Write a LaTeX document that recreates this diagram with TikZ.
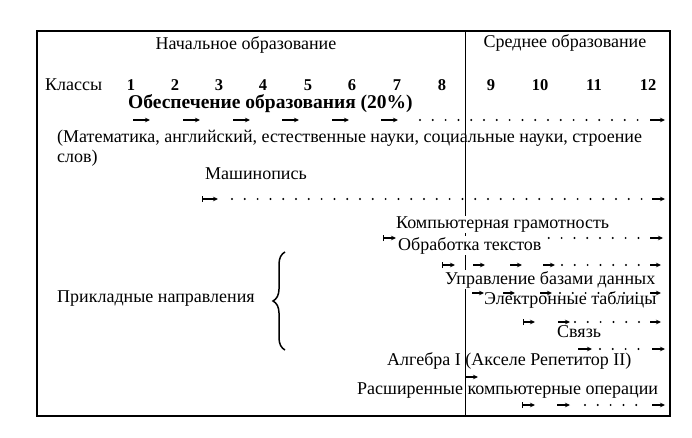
\documentclass[tikz,border=0pt]{standalone}
\usepackage{fontspec}
\setmainfont{Liberation Serif}
\usetikzlibrary{arrows.meta,decorations.pathreplacing}
\begin{document}
\begin{tikzpicture}[x=1pt,y=-1pt,
  lbl/.style={inner sep=0pt, anchor=mid west, font=\fontsize{18}{18}\selectfont},
  ctr/.style={inner sep=0pt, anchor=mid, font=\fontsize{18}{18}\selectfont},
  num/.style={inner sep=0pt, anchor=mid, font=\bfseries\fontsize{16.5}{16.5}\selectfont},
  wh/.style={fill=white, inner xsep=0pt, inner ysep=1pt},
  arr/.style={line width=1.3pt, -{Stealth[length=5pt,width=4.5pt]}},
  barr/.style={line width=1.3pt, {Bar[width=6pt]}-{Stealth[length=5pt,width=4.5pt]}},
  dotrow/.style={line width=2.2pt, line cap=round, dash pattern=on 0pt off 12.8pt},
  frame/.style={line width=1.3pt},
  divider/.style={line width=0.9pt}]
\useasboundingbox (0,0) rectangle (692,438);
\draw[frame] (37,31) rectangle (670,416);
\coordinate (dtop) at (465,31);
\coordinate (dbot) at (465,416);
\draw[divider] (dtop) -- (dbot);

\node[ctr] (prim) at (246,47) {Начальное образование};
\node[ctr] (sec) at (565,45) {Среднее образование};
\node[lbl] (kl) at (45,88) {Классы};
\foreach \n/\x in {1/131,2/175,3/219,4/263,5/308,6/352,7/397,8/442,9/491,10/540,11/594,12/648}
  \node[num] (g\n) at (\x,88) {\n};
\node[lbl, font=\bfseries\fontsize{19.5}{19.5}\selectfont] (obes) at (128,106.5) {Обеспечение образования (20\%)};
\foreach \a/\b in {133/150,183/200,233/250,282/299,332/349,381/398,650/665}
  \draw[arr] (\a,120) -- (\b,120);
\draw[dotrow] (420,120) -- (640,120);

\node[lbl] (subj) at (57,140) {(Математика, английский, естественные науки, социальные науки, строение};
\node[lbl] (slov) at (57,160) {слов)};

\node[lbl] (mash) at (205,177) {Машинопись};
\draw[barr] (202,199) -- (218,199);
\draw[dotrow] (232,199) -- (642,199);
\draw[arr] (652,199) -- (665,199);

\node[lbl, wh] (komp) at (396,226) {Компьютерная грамотность};
\draw[barr] (383,238) -- (396,238);
\draw[dotrow] (408,238) -- (640,238);
\draw[arr] (650,238) -- (663,238);

\node[lbl, wh] (obr) at (398,248) {Обработка текстов};
\draw[barr] (442,265) -- (455,265);
\foreach \a/\b in {473/485,510/522,543/555,650/661}
  \draw[arr] (\a,265) -- (\b,265);
\draw[dotrow] (562,265) -- (648,265);

\node[lbl, wh] (upr) at (445,282) {Управление базами данных};
\foreach \a/\b in {472/484,503/515,540/552,650/661}
  \draw[arr] (\a,293) -- (\b,293);
\draw[dotrow] (560,293) -- (648,293);

\node[lbl] (elt) at (484,302) {Электронные таблицы};
\draw[barr] (523,322) -- (535,322);
\foreach \a/\b in {558/570,650/661}
  \draw[arr] (\a,322) -- (\b,322);
\draw[dotrow] (575,322) -- (640,322);

\node[lbl] (svz) at (557,335) {Связь};
\foreach \a/\b in {578/592,652/665}
  \draw[arr] (\a,349) -- (\b,349);
\draw[dotrow] (600,349) -- (645,349);

\node[lbl] (alg) at (387,363) {Алгебра I (Акселе Репетитор II)};
\draw[arr] (466,377) -- (478,377);

\node[lbl] (rasch) at (357,392) {Расширенные компьютерные операции};
\draw[barr] (522,405) -- (535,405);
\foreach \a/\b in {557/570,652/665}
  \draw[arr] (\a,405) -- (\b,405);
\draw[dotrow] (585,405) -- (642,405);

\node[lbl] (prikl) at (57,300) {Прикладные направления};
\coordinate (bb) at (285,350);
\coordinate (bt) at (285,252);
\draw[line width=1.5pt, decorate, decoration={brace, amplitude=12pt}] (bb) -- (bt);
\end{tikzpicture}
\end{document}
